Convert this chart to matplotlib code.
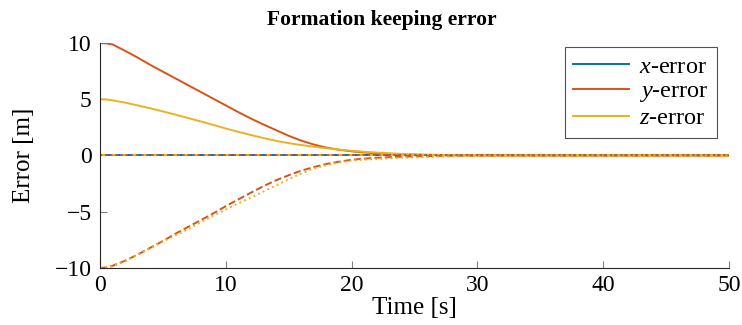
import numpy as np
import matplotlib
matplotlib.use("Agg")
import matplotlib.pyplot as plt

plt.rcParams['font.family'] = ['Liberation Serif', 'DejaVu Serif']
plt.rcParams['mathtext.fontset'] = 'custom'
plt.rcParams['mathtext.rm'] = 'Liberation Serif'
plt.rcParams['mathtext.it'] = 'Liberation Serif:italic'

# matlab default colours
blue = '#0072BD'
orange = '#D95319'
yellow = '#EDB120'

# time samples [s] and errors
t = [0, 0.5, 1, 2, 3, 4, 5, 6, 7, 8, 9, 10, 11, 12, 13, 14, 15, 16, 17, 18,
     19, 20, 21, 22, 24, 27, 30, 35, 40, 50]
# agent 1
y1 = [10, 9.97, 9.87, 9.3, 8.7, 8.05, 7.45, 6.85, 6.25, 5.65, 5.05, 4.45,
      3.85, 3.28, 2.75, 2.25, 1.75, 1.32, 0.97, 0.7, 0.51, 0.37, 0.27, 0.19,
      0.09, 0.02, 0.005, 0, 0, 0]
z1 = [5.0, 4.98, 4.9, 4.7, 4.45, 4.2, 3.92, 3.63, 3.33, 3.03, 2.72, 2.4,
      2.1, 1.82, 1.55, 1.3, 1.1, 0.93, 0.78, 0.64, 0.52, 0.42, 0.33, 0.26,
      0.14, 0.05, 0.01, 0, 0, 0]
# agent 2
y2 = [-10, -9.95, -9.8, -9.35, -8.8, -8.2, -7.6, -6.95, -6.35, -5.75, -5.15,
      -4.5, -3.9, -3.3, -2.72, -2.2, -1.75, -1.35, -1.03, -0.75, -0.55, -0.38,
      -0.28, -0.2, -0.1, -0.03, 0, 0, 0, 0]
# agent 3
z3 = [-10, -9.96, -9.85, -9.4, -8.8, -8.25, -7.65, -7.1, -6.55, -5.95, -5.35,
      -4.8, -4.25, -3.75, -3.2, -2.65, -2.1, -1.6, -1.15, -0.85, -0.62, -0.45,
      -0.37, -0.31, -0.2, -0.1, -0.04, 0, 0, 0]
zero = [0] * len(t)

fig = plt.figure(figsize=(7.42, 3.25), dpi=100)
ax = fig.add_axes([0.1348, 0.1754, 0.8477, 0.6923])

lw = 1.4
# agent 1 (solid)
ax.plot(t, zero, color=blue, lw=lw, label='$x$-error')
ax.plot(t, y1, color=orange, lw=lw, label='$y$-error')
ax.plot(t, z1, color=yellow, lw=lw, label='$z$-error')
# agent 2 (dashed)
ax.plot(t, zero, color=blue, lw=lw, ls='--')
ax.plot(t, y2, color=orange, lw=lw, ls='--')
ax.plot(t, zero, color=yellow, lw=lw, ls='--')
# agent 3 (dotted)
ax.plot(t, zero, color=blue, lw=lw, ls=':')
ax.plot(t, zero, color=orange, lw=lw, ls=':')
ax.plot(t, z3, color=yellow, lw=lw, ls=':')

ax.set_xlim(0, 50)
ax.set_ylim(-10, 10)
ax.set_xticks([0, 10, 20, 30, 40, 50])
ax.set_yticks([-10, -5, 0, 5, 10])
ax.tick_params(direction='in', length=5, color='#808080', labelsize=17)
ax.tick_params(axis='y', pad=6)
ax.tick_params(axis='x', pad=5)
for s in ['top', 'right']:
    ax.spines[s].set_visible(False)
for s in ['left', 'bottom']:
    ax.spines[s].set_color('#262626')
    ax.spines[s].set_linewidth(0.8)

ax.set_xlabel('Time [s]', fontsize=18, labelpad=1)
ax.set_ylabel('Error [m]', fontsize=18, labelpad=14)
fig.text(0.515, 0.923, 'Formation keeping error', fontsize=15.5,
         fontweight='bold', ha='center', va='baseline')

leg = ax.legend(loc='upper right', fontsize=17.5, frameon=True, fancybox=False,
                edgecolor='#262626', handlelength=2.3, borderpad=0.35,
                labelspacing=0.12, handletextpad=0.4, borderaxespad=0,
                bbox_to_anchor=(0.981, 0.982))
leg.get_frame().set_linewidth(0.8)

fig.savefig('out.png', dpi=100)
